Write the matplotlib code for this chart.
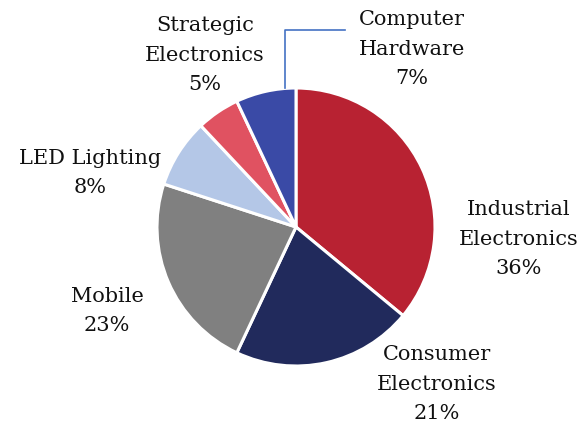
import matplotlib
matplotlib.use("Agg")
import matplotlib.pyplot as plt

categories = ["Industrial\nElectronics", "Consumer\nElectronics", "Mobile", "LED Lighting",
              "Strategic\nElectronics", "Computer\nHardware"]
shares = [36, 21, 23, 8, 5, 7]
colors = ["#B82232", "#212A5C", "#808080", "#B4C7E7", "#E05261", "#3A4AA6"]
label_pos = [(519, 239), (437, 384), (107, 311), (90, 173), (205, 55), (412, 49)]

W, H = 584, 425
fig = plt.figure(figsize=(W / 100, H / 100), dpi=100)
ax = fig.add_axes([0, 0, 1, 1])

ax.pie(shares, colors=colors, startangle=90, counterclock=False,
       center=(296, H - 227), radius=139, frame=True,
       wedgeprops=dict(edgecolor="white", linewidth=2.2))
ax.set_xlim(0, W)
ax.set_ylim(0, H)
ax.axis("off")

for name, val, (x, y) in zip(categories, shares, label_pos):
    ax.text(x, H - y, f"{name}\n{val}%", ha="center", va="center",
            fontsize=15, family="DejaVu Serif", color="#111111", linespacing=1.68)

# leader line for the Computer Hardware slice
ax.plot([285, 285, 345], [H - 88, H - 30, H - 30], color="#4472C4", lw=1.2)

fig.savefig("out.png", dpi=100)
